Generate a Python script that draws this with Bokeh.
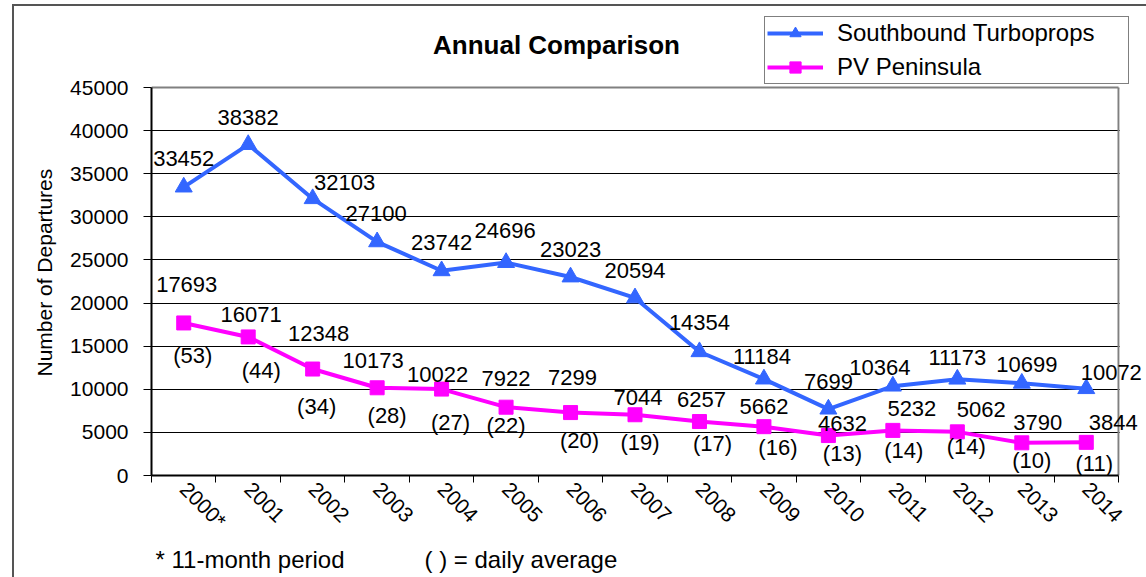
import math
from bokeh.plotting import figure
from bokeh.models import (Range1d, FixedTicker, NumeralTickFormatter, ColumnDataSource,
                          LabelSet, Label, Legend, LegendItem, BoxAnnotation, Title)
from bokeh.core.properties import value
from bokeh.embed import file_html
from bokeh.resources import INLINE

# ---------------- data ----------------
years = ["2000*", "2001", "2002", "2003", "2004", "2005", "2006", "2007",
         "2008", "2009", "2010", "2011", "2012", "2013", "2014"]
southbound = [33452, 38382, 32103, 27100, 23742, 24696, 23023, 20594,
              14354, 11184, 7699, 10364, 11173, 10699, 10072]
peninsula = [17693, 16071, 12348, 10173, 10022, 7922, 7299, 7044,
             6257, 5662, 4632, 5232, 5062, 3790, 3844]
daily_avg = [53, 44, 34, 28, 27, 22, 20, 19, 17, 16, 13, 14, 14, 10, 11]
y_ticks = [0, 5000, 10000, 15000, 20000, 25000, 30000, 35000, 40000, 45000]

# label nudges in screen pixels (dy positive = up)
sb_dx = [0, 0, 32, -1, 0, -1, 0, 0, 0, -2, 0, -13, 0, 5, 25]
sb_dy = [29, 27, 16, 28, 28, 32, 27, 27, 29, 23, 28, 19, 22, 19, 16]
pv_dx = [3, 3, 6, -4, -4, 0, 2, 3, 2, 0, 14, 19, 24, 16, 27]
pv_dy = [38, 22, 36, 27, 15, 29, 35, 17, 22, 20, 12, 22, 22, 20, 20]
da_dx = [9, 13, 4, 10, 9, 0, 9, 5, 13, 14, 14, 11, 9, 10, 8]
da_dy = [-33, -34, -37, -28, -33, -18, -28, -28, -22, -21, -18, -20, -15, -18, -21]

BLUE = "#3366ff"
MAGENTA = "#ff00ff"
FONT = "Liberation Sans"

n = len(years)
xs = [i + 0.5 for i in range(n)]

src = ColumnDataSource(dict(
    x=xs, sb=southbound, pv=peninsula,
    sb_txt=[str(v) for v in southbound],
    pv_txt=[str(v) for v in peninsula],
    da_txt=["(%d)" % v for v in daily_avg],
    sb_dx=sb_dx, sb_dy=sb_dy, pv_dx=pv_dx, pv_dy=pv_dy, da_dx=da_dx, da_dy=da_dy,
))

# layout: frame spans to canvas top/right; plot area (0..n, 0..45000) = 967 x 388 px
W, H = 1146, 577
BL, BB = 151, 102
frame_w, frame_h = W - BL, H - BB
area_w, area_h = 967, 388
x_end = n * frame_w / area_w
y_top = y_ticks[-1]
y_end = y_top * frame_h / area_h

p = figure(width=W, height=H, output_backend="svg", toolbar_location=None, tools="",
           x_range=Range1d(0, x_end), y_range=Range1d(0, y_end),
           min_border_left=BL, min_border_right=0, min_border_top=0, min_border_bottom=BB,
           styles={"box-shadow": "inset 12px 4px 0 0 #ffffff, inset 14px 6px 0 0 #555555"})
p.border_fill_color = None
p.background_fill_color = None
p.outline_line_color = None

# y axis
p.yaxis.bounds = (0, y_top)
p.yaxis.ticker = FixedTicker(ticks=y_ticks)
p.yaxis.formatter = NumeralTickFormatter(format="0")
p.yaxis.axis_line_color = "black"
p.yaxis.axis_line_width = 2
p.yaxis.major_tick_out = 8
p.yaxis.major_tick_in = 0
p.yaxis.major_tick_line_color = "black"
p.yaxis.minor_tick_line_color = None
p.yaxis.major_label_standoff = 15
p.yaxis.major_label_text_font = FONT
p.yaxis.major_label_text_font_size = "21px"
p.yaxis.major_label_text_color = "black"

# y axis title (as a side title so it can be placed along the plot area)
p.add_layout(Title(text="Number of Departures", align="left", offset=99,
                   text_font=FONT, text_font_size="21px", text_font_style="normal",
                   text_color="black", standoff=24), "left")

# x axis
p.xaxis.bounds = (0, n)
p.xaxis.ticker = FixedTicker(ticks=xs, minor_ticks=list(range(n + 1)))
p.xaxis.major_label_overrides = {x: y for x, y in zip(xs, years)}
p.xaxis.axis_line_color = "black"
p.xaxis.axis_line_width = 2
p.xaxis.major_tick_line_color = None
p.xaxis.major_tick_out = 0
p.xaxis.major_tick_in = 0
p.xaxis.minor_tick_line_color = "black"
p.xaxis.minor_tick_out = 7
p.xaxis.minor_tick_in = 0
p.xaxis.major_label_orientation = -math.pi / 4
p.xaxis.major_label_standoff = 3
p.xaxis.major_label_text_font = FONT
p.xaxis.major_label_text_font_size = "21px"
p.xaxis.major_label_text_color = "black"

# grid
p.xgrid.visible = False
p.ygrid.ticker = FixedTicker(ticks=y_ticks[1:-1])
p.ygrid.grid_line_color = "black"
p.ygrid.grid_line_width = 1

# plot-area border (top and right, grey)
p.segment(x0=[0, n], y0=[y_top, 0], x1=[n, n], y1=[y_top, y_top],
          line_color="#808080", line_width=2)
# blank out the grid lines to the right of the plot area
p.add_layout(BoxAnnotation(left=n + 0.02, bottom=0, top=y_top - 200,
                           fill_color="white", fill_alpha=1.0, line_color=None))

# series
l1 = p.line("x", "sb", source=src, color=BLUE, line_width=4)
s1 = p.scatter("x", "sb", source=src, marker="triangle", size=17, color=BLUE)
l2 = p.line("x", "pv", source=src, color=MAGENTA, line_width=4)
s2 = p.scatter("x", "pv", source=src, marker="square", size=14, color=MAGENTA)

lab_kw = dict(source=src, text_font=value(FONT), text_font_size=value("22px"),
              text_color="black", text_align="center", text_baseline="middle")
p.add_layout(LabelSet(x="x", y="sb", text="sb_txt", x_offset="sb_dx", y_offset="sb_dy", **lab_kw))
p.add_layout(LabelSet(x="x", y="pv", text="pv_txt", x_offset="pv_dx", y_offset="pv_dy", **lab_kw))
p.add_layout(LabelSet(x="x", y="pv", text="da_txt", x_offset="da_dx", y_offset="da_dy", **lab_kw))

# chart title (inside the extended frame, above the plot area)
p.add_layout(Label(x=405, y=431, x_units="screen", y_units="screen", text="Annual Comparison",
                   text_font=FONT, text_font_size="26px", text_font_style="bold",
                   text_align="center", text_baseline="alphabetic", text_color="black"))

# footnote below the x axis
gap = "\u00a0" * 12
p.add_layout(Title(text="* 11-month period" + gap + "( ) = daily average",
                   align="left", offset=4, text_font=FONT, text_font_size="24px",
                   text_font_style="normal", text_color="black", standoff=0), "below")

# legend
legend = Legend(items=[LegendItem(label="Southbound Turboprops", renderers=[l1, s1]),
                       LegendItem(label="PV Peninsula", renderers=[l2, s2])],
                location=(613, 391), margin=0, padding=2, spacing=6,
                glyph_width=56, glyph_height=28, label_height=28, label_width=289,
                label_standoff=14, label_text_font=FONT, label_text_font_size="24px",
                label_text_color="black", border_line_color="black", border_line_width=1,
                background_fill_color="white", background_fill_alpha=1.0)
p.add_layout(legend)

open("out.html", "w").write(file_html(p, INLINE))
